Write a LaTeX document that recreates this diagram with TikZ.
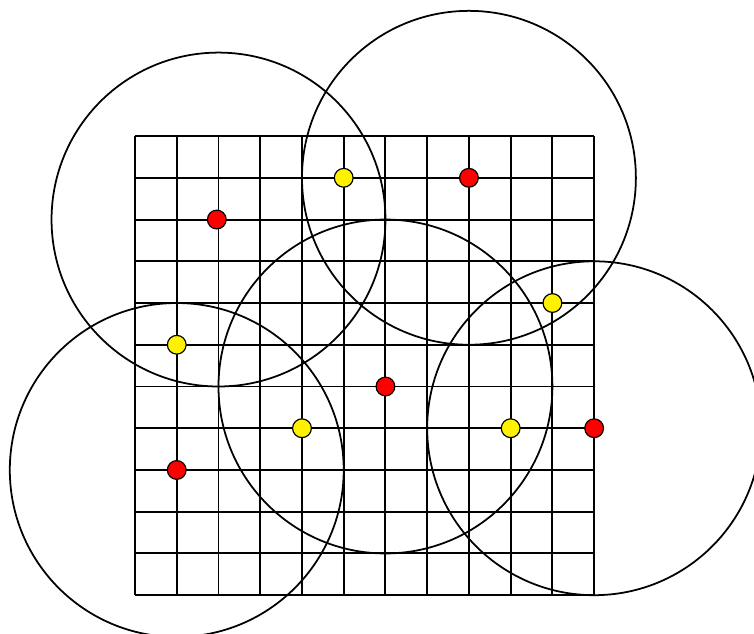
\documentclass[tikz,border=0pt]{standalone}
\usepackage{tikz}

\tikzset{
    reddot/.style={circle, draw=black, fill=red, line width=0.8pt,
        inner sep=0pt, minimum size=0.45cm},
    yellowdot/.style={circle, draw=black, fill=yellow, line width=0.8pt,
        inner sep=0pt, minimum size=0.45cm},
    reach/.style={line width=1.2pt, black}
}

\begin{document}
\begin{tikzpicture}

\useasboundingbox (-3.235,-0.91) rectangle (14.83,14.26);
\clip (-3.235,-0.91) rectangle (14.83,14.26);


% Raster

\draw[
    line width=1.35pt
] (0,0) grid (11,11);


% Bereiche

\foreach \p in {(2,9),(8,10),(6,5),(11,4),(1,3)}
    \draw[reach] \p circle (4);


% Sender

\node[reddot] (s1) at (1.96,9) {};
\node[reddot] (s2) at (8,10) {};
\node[reddot] (s3) at (6,5) {};
\node[reddot] (s4) at (11,4) {};
\node[reddot] (s5) at (1,3) {};


% Empfaenger

\node[yellowdot] (e1) at (5,10) {};
\node[yellowdot] (e2) at (1,6) {};
\node[yellowdot] (e3) at (10,7) {};
\node[yellowdot] (e4) at (4,4) {};
\node[yellowdot] (e5) at (9,4) {};

\end{tikzpicture}
\end{document}
